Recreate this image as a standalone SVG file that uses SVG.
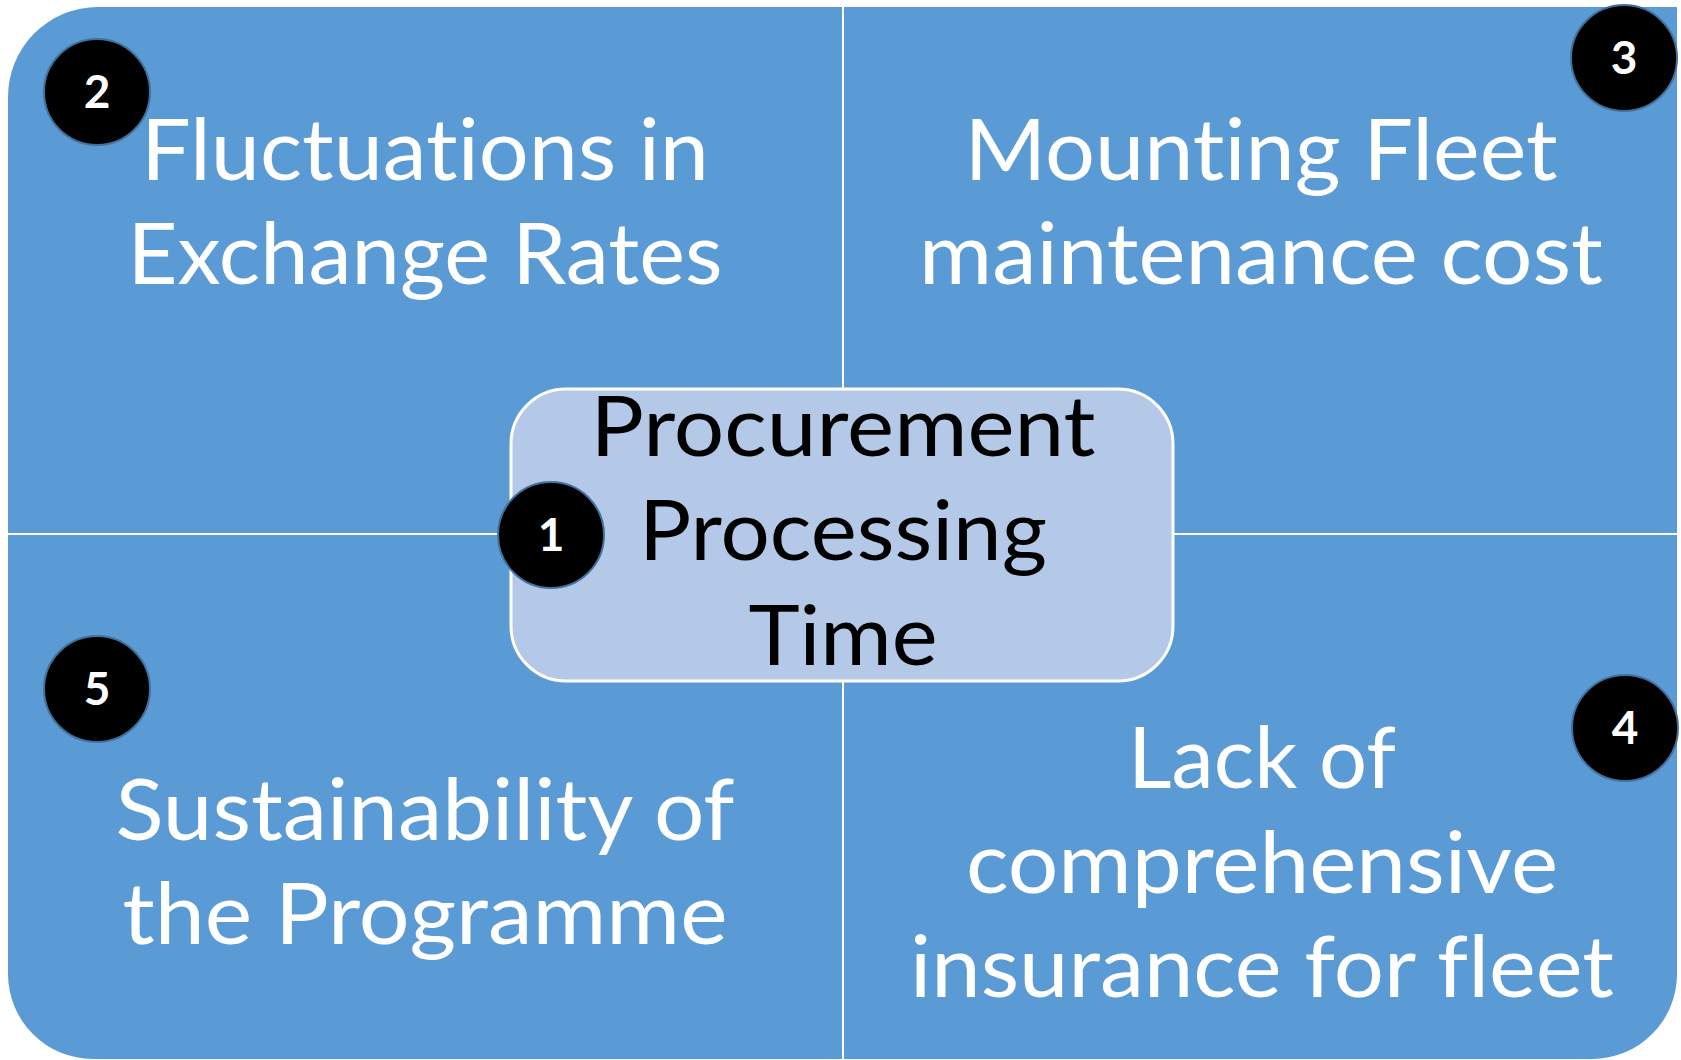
<svg xmlns="http://www.w3.org/2000/svg" width="1681" height="1060" viewBox="0 0 1681 1060">
<style>
text{font-variant-ligatures:none;font-feature-settings:"liga" 0,"dlig" 0,"clig" 0}
.q{font-family:Lato,"Open Sans","Liberation Sans",sans-serif;font-size:86px;fill:#fff;text-anchor:middle}
.c{font-family:Lato,"Open Sans","Liberation Sans",sans-serif;font-size:83px;fill:#000;text-anchor:middle}
.badge circle{fill:#000;stroke:#41719c;stroke-width:2}
.badge text{font-family:Lato,"Open Sans","Liberation Sans",sans-serif;font-weight:bold;font-size:46px;fill:#fff;text-anchor:middle}
.div{stroke:#fff;stroke-width:2}
</style>
<rect width="1681" height="1060" fill="#fff"/>
<path id="background" d="M98,7 H1677 V974 A85,85 0 0 1 1592,1059 H93 A85,85 0 0 1 8,974 V97 A90,90 0 0 1 98,7 Z" fill="#5b9bd5"/>
<g id="dividers">
<line class="div" x1="843" y1="7" x2="843" y2="1059"/>
<line class="div" x1="8" y1="534" x2="1677" y2="534"/>
</g>
<g id="node-2">
<text class="q" x="425" y="180" textLength="568" lengthAdjust="spacingAndGlyphs">Fluctuations in</text>
<text class="q" x="425" y="284" textLength="595" lengthAdjust="spacingAndGlyphs">Exchange Rates</text>
</g>
<g id="node-3">
<text class="q" x="1261" y="180" textLength="593" lengthAdjust="spacingAndGlyphs">Mounting Fleet</text>
<text class="q" x="1261" y="284" textLength="684" lengthAdjust="spacingAndGlyphs">maintenance cost</text>
</g>
<g id="node-5">
<text class="q" x="425" y="840" textLength="619" lengthAdjust="spacingAndGlyphs">Sustainability of</text>
<text class="q" x="425" y="944" textLength="605" lengthAdjust="spacingAndGlyphs">the Programme</text>
</g>
<g id="node-4">
<text class="q" x="1262" y="788" textLength="268" lengthAdjust="spacingAndGlyphs">Lack of</text>
<text class="q" x="1262" y="893" textLength="592" lengthAdjust="spacingAndGlyphs">comprehensive</text>
<text class="q" x="1262" y="997" textLength="704" lengthAdjust="spacingAndGlyphs">insurance for fleet</text>
</g>
<g id="node-1">
<rect x="511" y="389" width="662" height="292" rx="55" ry="55" fill="#b4c8e7" stroke="#fff" stroke-width="3"/>
<text class="c" x="843" y="456" textLength="505" lengthAdjust="spacingAndGlyphs">Procurement</text>
<text class="c" x="843" y="560" textLength="408" lengthAdjust="spacingAndGlyphs">Processing</text>
<text class="c" x="843" y="665" textLength="189" lengthAdjust="spacingAndGlyphs">Time</text>
</g>
<g id="badge-1" class="badge"><circle cx="551" cy="535" r="53"/><text x="551" y="551">1</text></g>
<g id="badge-2" class="badge"><circle cx="97" cy="92" r="53"/><text x="97" y="108">2</text></g>
<g id="badge-3" class="badge"><circle cx="1624" cy="58" r="53"/><text x="1624" y="74">3</text></g>
<g id="badge-4" class="badge"><circle cx="1625" cy="728" r="53"/><text x="1625" y="744">4</text></g>
<g id="badge-5" class="badge"><circle cx="97" cy="689" r="53"/><text x="97" y="705">5</text></g>
</svg>
